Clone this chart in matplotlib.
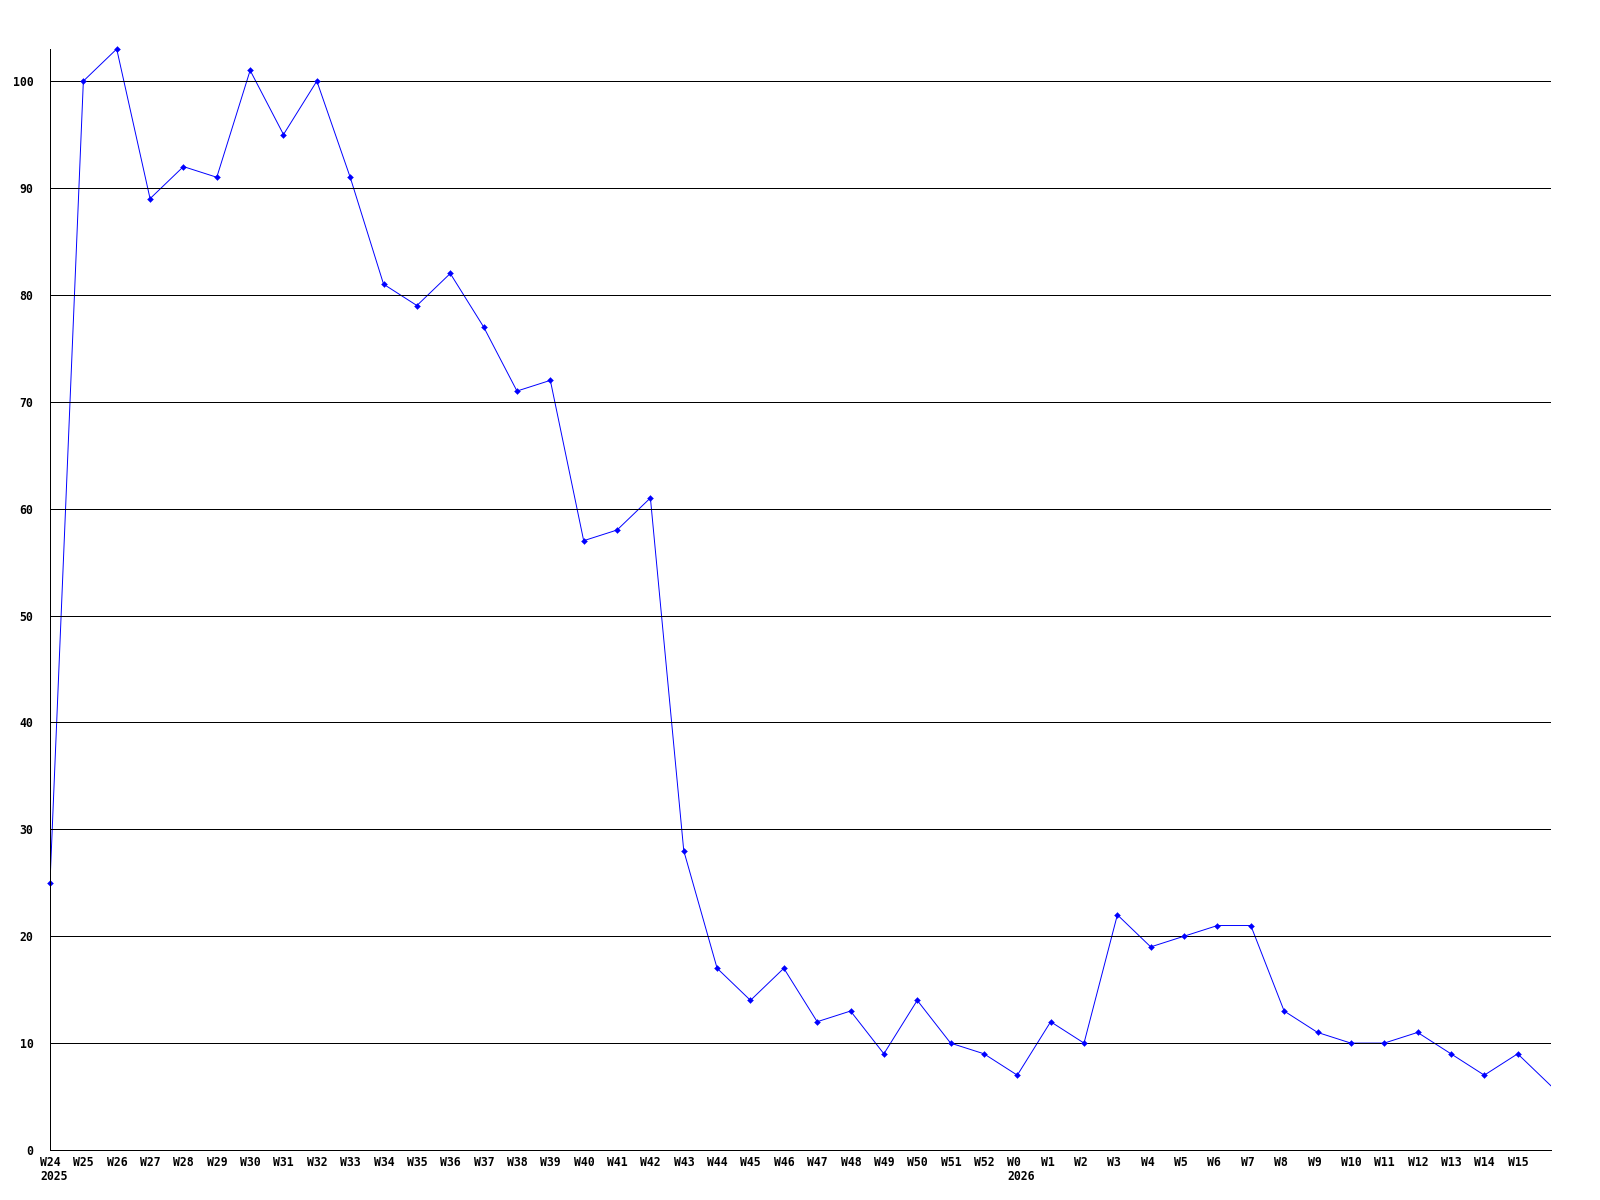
import numpy as np
import matplotlib
matplotlib.use('Agg')
import matplotlib.pyplot as plt
from matplotlib.transforms import ScaledTranslation

weeks = ['W24', 'W25', 'W26', 'W27', 'W28', 'W29', 'W30', 'W31', 'W32', 'W33',
         'W34', 'W35', 'W36', 'W37', 'W38', 'W39', 'W40', 'W41', 'W42', 'W43',
         'W44', 'W45', 'W46', 'W47', 'W48', 'W49', 'W50', 'W51', 'W52', 'W0',
         'W1', 'W2', 'W3', 'W4', 'W5', 'W6', 'W7', 'W8', 'W9', 'W10',
         'W11', 'W12', 'W13', 'W14', 'W15', '']
years = {'W24': '2025', 'W0': '2026'}
values = [25, 100, 103, 89, 92, 91, 101, 95, 100, 91,
          81, 79, 82, 77, 71, 72, 57, 58, 61, 28,
          17, 14, 17, 12, 13, 9, 14, 10, 9, 7,
          12, 10, 22, 19, 20, 21, 21, 13, 11, 10,
          10, 11, 9, 7, 9, 6]
yticks = [0, 10, 20, 30, 40, 50, 60, 70, 80, 90, 100]

plt.rcParams['font.family'] = 'DejaVu Sans Mono'
plt.rcParams['font.weight'] = 'bold'
plt.rcParams['font.size'] = 8.3

fig = plt.figure(figsize=(16, 12), dpi=100, facecolor='w')
ax = fig.add_axes([50/1600, 1 - 1150/1200, 1501/1600, 1101/1200])

x = np.arange(len(values))
ax.plot(x, values, color='#0000ff', lw=0.7, zorder=2)
ax.plot(x[:-1], values[:-1], ls='none', marker='D', ms=3, mew=0.3,
        color='#0000ff', zorder=4, clip_on=False)

for y in yticks[1:]:
    ax.axhline(y, color='black', lw=0.72, zorder=3, antialiased=False)

ax.set_xlim(0, len(values) - 1)
ax.set_ylim(0, 103)
ax.set_yticks(yticks)
ax.set_yticklabels([str(v) for v in yticks])
ax.set_xticks(x)
ax.set_xticklabels([w + ('\n' + years[w] if w in years else '') for w in weeks])

for s in ['top', 'right']:
    ax.spines[s].set_visible(False)
for s in ['left', 'bottom']:
    ax.spines[s].set_linewidth(0.72)
    ax.spines[s].set_antialiased(False)
    ax.spines[s].set_zorder(5)

ax.tick_params(axis='both', length=0)
ax.tick_params(axis='y', pad=12)
ax.tick_params(axis='x', pad=4)

off = ScaledTranslation(-10/100, 0, fig.dpi_scale_trans)
for lab in ax.get_xticklabels():
    lab.set_ha('left')
    lab.set_multialignment('left')
    lab.set_linespacing(1.15)
    lab.set_transform(lab.get_transform() + off)

fig.savefig('out.png', dpi=100, facecolor='w')
